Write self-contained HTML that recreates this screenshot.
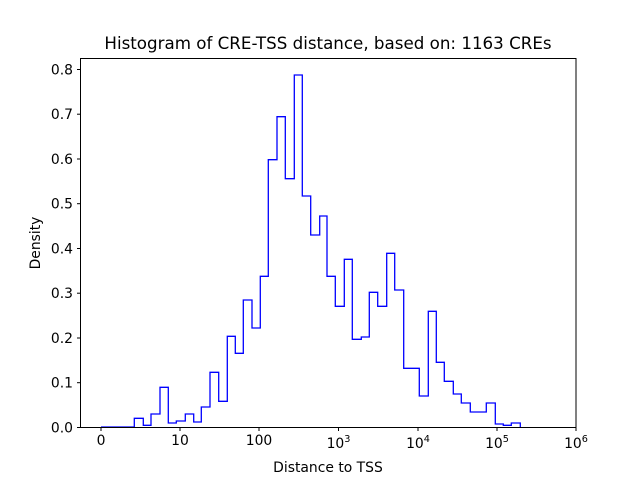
<!DOCTYPE html>
<html><head><meta charset="utf-8"><style>body{margin:0;background:#fff}svg{display:block}text{font-family:"DejaVu Sans","Liberation Sans",sans-serif;fill:#000}</style></head><body>
<svg width="640" height="480" viewBox="0 0 640 480">
<rect x="0" y="0" width="640" height="480" fill="#fff"/>
<polyline fill="none" stroke="#0000ff" stroke-width="1.3" points="101,427 134.3,427 134.3,418.3 143.3,418.3 143.3,425.3 151,425.3 151,414 160,414 160,387.3 168.3,387.3 168.3,423 176.3,423 176.3,421 185.3,421 185.3,414 193.7,414 193.7,422 201.3,422 201.3,407 210,407 210,372.3 218.7,372.3 218.7,401.3 227.3,401.3 227.3,336.3 235.3,336.3 235.3,353.3 243.3,353.3 243.3,300 252,300 252,328 260.3,328 260.3,276.3 268.3,276.3 268.3,159.7 277,159.7 277,116.7 285.3,116.7 285.3,178.7 294.3,178.7 294.3,75 302.3,75 302.3,196 310.7,196 310.7,235 319.7,235 319.7,216 327,216 327,276.3 335.3,276.3 335.3,306.3 344.3,306.3 344.3,259.3 352.3,259.3 352.3,339.3 361.3,339.3 361.3,337 369.3,337 369.3,292.3 377.7,292.3 377.7,306.3 386.7,306.3 386.7,253.3 394.7,253.3 394.7,290 403.7,290 403.7,368.3 419.3,368.3 419.3,396 428.3,396 428.3,311.3 436.3,311.3 436.3,362.3 444.3,362.3 444.3,381.3 453.3,381.3 453.3,394 461.3,394 461.3,403 470.3,403 470.3,412 486.3,412 486.3,403 495.3,403 495.3,424 503.3,424 503.3,425.3 511.3,425.3 511.3,423 520.3,423 520.3,427"/>
<rect x="80.5" y="58.5" width="495.5" height="369" fill="none" stroke="#000" stroke-width="1"/>
<g stroke="#000" stroke-width="1">
<line x1="101" y1="427.5" x2="101" y2="431"/><line x1="180" y1="427.5" x2="180" y2="431"/><line x1="259" y1="427.5" x2="259" y2="431"/><line x1="338.5" y1="427.5" x2="338.5" y2="431"/><line x1="418" y1="427.5" x2="418" y2="431"/><line x1="497" y1="427.5" x2="497" y2="431"/><line x1="576" y1="427.5" x2="576" y2="431"/>
<line x1="77" y1="427.5" x2="80.5" y2="427.5"/><line x1="77" y1="382.7" x2="80.5" y2="382.7"/><line x1="77" y1="338" x2="80.5" y2="338"/><line x1="77" y1="293.2" x2="80.5" y2="293.2"/><line x1="77" y1="248.5" x2="80.5" y2="248.5"/><line x1="77" y1="203.7" x2="80.5" y2="203.7"/><line x1="77" y1="159" x2="80.5" y2="159"/><line x1="77" y1="114.2" x2="80.5" y2="114.2"/><line x1="77" y1="69.5" x2="80.5" y2="69.5"/>
</g>
<g font-size="13.9" text-anchor="end">
<text x="73" y="432.5">0.0</text><text x="73" y="387.7">0.1</text><text x="73" y="343">0.2</text><text x="73" y="298.2">0.3</text><text x="73" y="253.5">0.4</text><text x="73" y="208.7">0.5</text><text x="73" y="164">0.6</text><text x="73" y="119.2">0.7</text><text x="73" y="74.5">0.8</text>
</g>
<g font-size="13.9" text-anchor="middle">
<text x="101" y="445">0</text><text x="180" y="445">10</text><text x="259" y="445">100</text>
<text x="338.5" y="448">10<tspan font-size="9.7" dy="-6">3</tspan></text>
<text x="418" y="448">10<tspan font-size="9.7" dy="-6">4</tspan></text>
<text x="497" y="448">10<tspan font-size="9.7" dy="-6">5</tspan></text>
<text x="576" y="448">10<tspan font-size="9.7" dy="-6">6</tspan></text>
<text x="328" y="472">Distance to TSS</text>
<text x="328" y="49" font-size="16.7">Histogram of CRE-TSS distance, based on: 1163 CREs</text>
<text transform="translate(40,243) rotate(-90)">Density</text>
</g>
</svg>
</body></html>
